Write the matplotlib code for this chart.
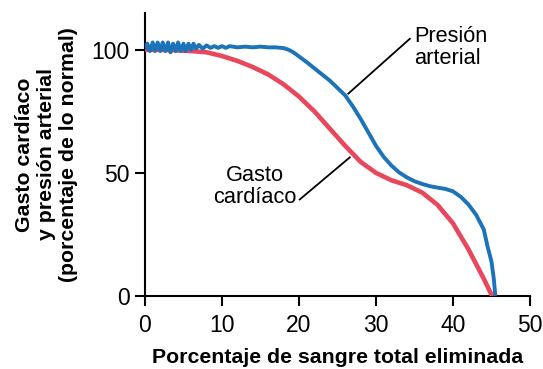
import matplotlib
matplotlib.use("Agg")
import matplotlib.pyplot as plt

plt.rcParams['font.family'] = ['Liberation Sans', 'DejaVu Sans']

# Presión arterial (blue)
pres_x = [0.0, 0.3, 0.65, 1.0, 1.3, 1.65, 2.0, 2.3, 2.65, 3.0, 3.3, 3.65, 4.0, 4.3,
          4.65, 5.0, 5.3, 5.65, 6.0, 6.3, 6.65, 7.0, 7.5, 8.0, 8.5, 9.0, 9.5, 10.0,
          10.5, 11, 12, 13, 14, 15, 16, 17, 18, 18.5, 19, 19.5, 20, 21, 22, 23, 24, 25,
          26, 27, 28, 29, 30, 31, 32, 33, 34, 35, 36, 37, 38, 39, 40, 41, 42, 43, 44,
          44.5, 45, 45.3, 45.5]
pres_y = [100, 102.5, 99.5, 103, 99.5, 103, 99.5, 103, 99.5, 103, 99, 102.5, 99.5, 103,
          99.5, 102.5, 99.5, 102.5, 100, 102.5, 100.5, 102, 100.5, 101.8, 100.8, 101.5,
          100.8, 101.5, 100.8, 101.5, 101, 101.3, 101, 101.3, 101, 101, 100.7, 100.2, 99.5,
          98.5, 97.3, 95, 92.5, 90, 87.5, 84.5, 81.5, 77, 72, 66.5, 61, 56.5, 53, 50.2,
          48.2, 46.6, 45.5, 44.6, 44, 43.5, 42.5, 40.3, 37.2, 33, 27, 20, 14, 7, 0]

# Gasto cardíaco (red)
gasto_x = [0, 2, 4, 6, 8, 10, 12, 14, 16, 18, 20, 22, 24, 26, 28, 30, 32, 34, 36, 38,
           40, 42, 43, 44, 45, 45.2]
gasto_y = [100, 100, 99.8, 99.5, 99, 97.5, 95.5, 93, 90, 86, 81, 75, 68, 61, 54.5, 50,
           47, 45, 42, 37, 29.5, 19, 13, 7, 0.5, 0]

fig = plt.figure(figsize=(5.43, 3.69), dpi=100)
ax = fig.add_axes([0.267, 0.198, 0.709, 0.767])

ax.plot(gasto_x, gasto_y, color="#e8475c", lw=3.3, solid_capstyle="butt",
        solid_joinstyle="round", zorder=3)
ax.plot(pres_x, pres_y, color="#1b73b9", lw=2.8, solid_capstyle="butt",
        solid_joinstyle="round", zorder=4)

ax.set_xlim(0, 50)
ax.set_ylim(0, 115)
ax.set_xticks([0, 10, 20, 30, 40, 50])
ax.set_yticks([0, 50, 100])
for s in ["top", "right"]:
    ax.spines[s].set_visible(False)
for s in ["left", "bottom"]:
    ax.spines[s].set_linewidth(1.5)
ax.tick_params(length=7, width=1.5, labelsize=16.5)
ax.tick_params(axis="x", pad=6)
ax.tick_params(axis="y", pad=4)

ax.set_xlabel("Porcentaje de sangre total eliminada", fontsize=15.3,
              fontweight="bold", labelpad=8)
ax.set_ylabel("Gasto cardíaco\ny presión arterial\n(porcentaje de lo normal)",
              fontsize=15.3, fontweight="bold", labelpad=10, linespacing=1.2)

# leader lines and labels
ax.plot([26.4, 34.4], [82.2, 104.5], color="black", lw=1.3, zorder=2)
ax.text(35.0, 101, "Presión\narterial", fontsize=15.7, ha="left", va="center",
        linespacing=1.05)
ax.plot([20.1, 26.6], [39.2, 56.3], color="black", lw=1.3, zorder=2)
ax.text(14.3, 44.5, "Gasto\ncardíaco", fontsize=15.7, ha="center", va="center",
        linespacing=1.05)

for lbl in ax.get_xticklabels() + ax.get_yticklabels():
    lbl.set_clip_on(False)

fig.savefig("out.png", dpi=100)
